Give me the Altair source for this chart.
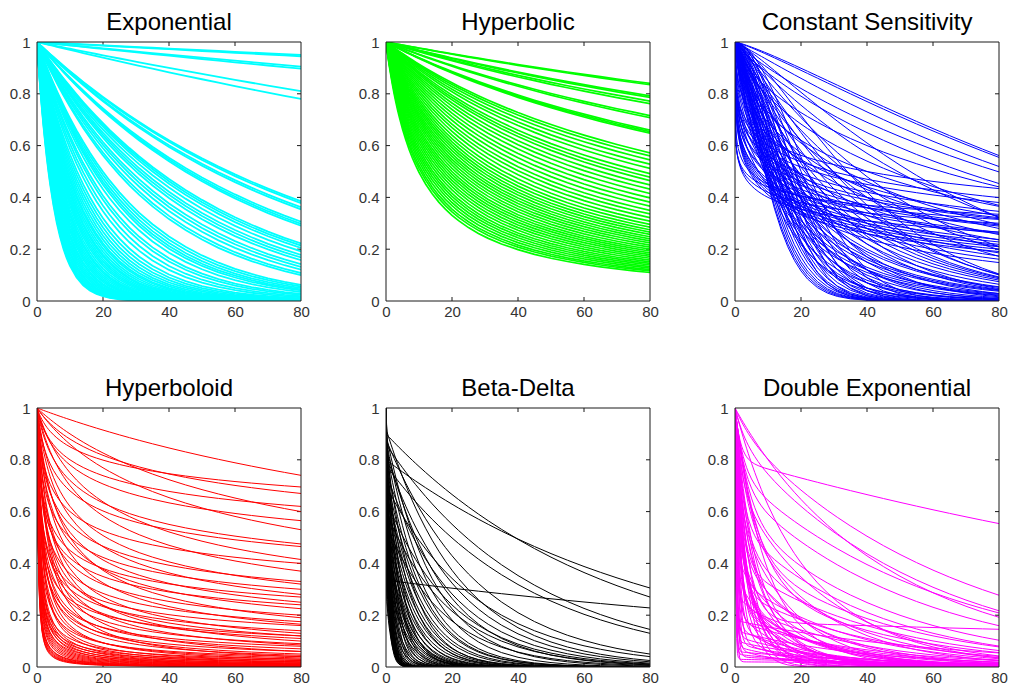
import math
import numpy as np
import pandas as pd
import altair as alt

alt.data_transformers.disable_max_rows()

# ---------------- data ----------------
T_GRID = [0, 0.25, 0.5, 0.75, 1, 1.5, 2, 2.5, 3, 3.5, 4, 5, 6, 7, 8, 9, 10, 12, 14,
          16, 18, 20, 22, 25, 28, 31, 35, 40, 45, 50, 55, 60, 65, 70, 75, 80]
X_TICKS = [0, 20, 40, 60, 80]
Y_TICKS = [0, 0.2, 0.4, 0.6, 0.8, 1]

TITLES = ["Exponential", "Hyperbolic", "Constant Sensitivity",
          "Hyperboloid", "Beta-Delta", "Double Exponential"]
COLORS = ["#00ffff", "#00ff00", "#0000ff", "#ff0000", "#000000", "#ff00ff"]
WIDTHS = [1.8, 1.7, 1.0, 1.0, 1.0, 1.0]

# Exponential: value reached at t=80 (slow curves) and decay rates (fast bundle)
EXP_END80 = [0.950, 0.945, 0.905, 0.897, 0.810, 0.780, 0.385, 0.378, 0.362, 0.354,
             0.306, 0.298, 0.291, 0.222, 0.214, 0.205, 0.192, 0.178, 0.168, 0.158,
             0.142, 0.132, 0.121, 0.108, 0.100, 0.062, 0.056, 0.050, 0.045]
EXP_RATE = [0.040, 0.042, 0.045, 0.047, 0.050, 0.053, 0.057, 0.060, 0.063, 0.066,
            0.069, 0.072, 0.075, 0.077, 0.080, 0.083, 0.086, 0.088, 0.091, 0.094,
            0.097, 0.100, 0.104, 0.108, 0.111, 0.115, 0.119, 0.123, 0.127, 0.131,
            0.136, 0.140, 0.145, 0.150, 0.155, 0.160, 0.166, 0.171, 0.177, 0.183,
            0.189, 0.195, 0.200]

# Hyperbolic: value reached at t=80
HYP_END80 = [0.840, 0.835, 0.792, 0.786, 0.772, 0.762, 0.716, 0.708, 0.660, 0.654,
             0.648, 0.572, 0.560, 0.545, 0.528, 0.512, 0.492, 0.478, 0.465, 0.448,
             0.432, 0.415, 0.398, 0.382, 0.366, 0.350, 0.336, 0.322, 0.308, 0.296,
             0.285, 0.275, 0.266, 0.257, 0.248, 0.240, 0.232, 0.224, 0.216, 0.208,
             0.200, 0.193, 0.186, 0.179, 0.172, 0.165, 0.158, 0.151, 0.145, 0.139,
             0.133, 0.127, 0.121, 0.116, 0.110]

# Constant sensitivity: (value at t=10, value at t=40)
CS_D10_D40 = [
    (0.955, 0.78), (0.95, 0.77), (0.93, 0.73), (0.90, 0.69),
    (0.88, 0.65), (0.91, 0.61), (0.82, 0.60), (0.87, 0.57),
    (0.79, 0.54), (0.72, 0.50), (0.85, 0.48), (0.73, 0.46),
    (0.81, 0.44), (0.69, 0.43), (0.78, 0.40), (0.88, 0.42), (0.83, 0.37),
    (0.62, 0.50), (0.60, 0.47), (0.58, 0.45), (0.56, 0.42), (0.55, 0.40), (0.53, 0.39),
    (0.52, 0.37), (0.50, 0.36), (0.49, 0.34), (0.47, 0.33), (0.46, 0.31), (0.45, 0.30),
    (0.44, 0.29), (0.43, 0.28), (0.42, 0.27), (0.41, 0.26), (0.64, 0.44), (0.66, 0.40),
    (0.60, 0.36), (0.57, 0.33), (0.54, 0.30), (0.51, 0.28), (0.48, 0.26), (0.45, 0.24),
    (0.45, 0.36), (0.42, 0.34), (0.40, 0.31), (0.44, 0.37),
    (0.80, 0.35), (0.77, 0.32), (0.74, 0.30), (0.71, 0.28), (0.68, 0.26), (0.65, 0.24),
    (0.63, 0.22), (0.61, 0.20), (0.59, 0.19), (0.57, 0.17), (0.55, 0.16), (0.53, 0.15),
    (0.51, 0.13), (0.49, 0.12), (0.47, 0.11), (0.70, 0.22), (0.75, 0.25), (0.67, 0.18),
    (0.64, 0.15), (0.60, 0.12), (0.56, 0.10), (0.52, 0.08), (0.48, 0.07), (0.72, 0.17),
    (0.66, 0.12), (0.62, 0.09), (0.58, 0.07), (0.54, 0.05), (0.50, 0.04), (0.46, 0.05),
    (0.85, 0.12), (0.82, 0.09), (0.78, 0.07), (0.75, 0.05), (0.72, 0.04), (0.69, 0.03),
    (0.66, 0.025), (0.63, 0.02), (0.60, 0.015), (0.57, 0.012), (0.55, 0.01), (0.52, 0.008),
    (0.50, 0.006), (0.48, 0.005), (0.46, 0.004), (0.45, 0.003), (0.80, 0.04), (0.76, 0.02),
    (0.70, 0.01), (0.65, 0.006),
]

# Hyperboloid: (value at t=10, value at t=80)
HBD_D10_D80 = [
    (0.955, 0.74), (0.85, 0.695), (0.88, 0.67), (0.80, 0.62), (0.90, 0.60), (0.78, 0.565),
    (0.86, 0.53), (0.72, 0.475), (0.68, 0.465), (0.75, 0.415), (0.60, 0.40), (0.70, 0.37),
    (0.55, 0.33), (0.62, 0.32), (0.50, 0.30), (0.58, 0.28), (0.45, 0.27), (0.52, 0.25),
    (0.42, 0.24), (0.48, 0.225), (0.40, 0.20), (0.50, 0.19), (0.36, 0.175), (0.44, 0.165),
    (0.30, 0.14), (0.38, 0.13), (0.33, 0.12), (0.28, 0.11), (0.35, 0.10), (0.25, 0.09),
    (0.30, 0.085), (0.22, 0.07), (0.27, 0.06), (0.20, 0.05), (0.18, 0.045), (0.24, 0.04),
    (0.15, 0.035), (0.16, 0.03), (0.13, 0.025), (0.12, 0.02), (0.10, 0.018), (0.09, 0.015),
    (0.08, 0.012), (0.07, 0.01), (0.06, 0.009), (0.055, 0.008), (0.05, 0.007), (0.045, 0.006),
    (0.04, 0.005), (0.035, 0.004), (0.03, 0.0035), (0.028, 0.003), (0.025, 0.0025),
    (0.022, 0.002), (0.02, 0.0018), (0.018, 0.0015), (0.016, 0.0012), (0.11, 0.03),
    (0.14, 0.04), (0.19, 0.06), (0.21, 0.08), (0.26, 0.12), (0.32, 0.16), (0.065, 0.012),
    (0.075, 0.015), (0.085, 0.02), (0.095, 0.025),
]

# Beta-delta: slow curves (beta, value at t=80); fast curves (beta, value at t=10)
BD_SLOW_BETA_D80 = [
    (0.80, 0.305), (0.90, 0.27), (0.335, 0.228), (0.86, 0.145), (0.78, 0.13), (0.88, 0.05),
    (0.70, 0.04), (0.92, 0.025), (0.82, 0.02), (0.75, 0.015), (0.65, 0.012), (0.60, 0.01),
    (0.85, 0.008), (0.55, 0.006),
]
BD_FAST_BETA_D10 = [
    (0.90, 0.45), (0.88, 0.40), (0.85, 0.35), (0.80, 0.32), (0.75, 0.30), (0.72, 0.27),
    (0.70, 0.25), (0.68, 0.22), (0.65, 0.20), (0.62, 0.18), (0.60, 0.16), (0.58, 0.14),
    (0.55, 0.12), (0.52, 0.10), (0.50, 0.09), (0.48, 0.08), (0.45, 0.07), (0.42, 0.06),
    (0.40, 0.05), (0.85, 0.25), (0.78, 0.20), (0.72, 0.15), (0.66, 0.12), (0.60, 0.10),
    (0.55, 0.08), (0.90, 0.05), (0.88, 0.03), (0.85, 0.02), (0.82, 0.012), (0.80, 0.008),
    (0.78, 0.005), (0.75, 0.003), (0.72, 0.002), (0.70, 0.001), (0.68, 0.0006),
    (0.65, 0.0004), (0.62, 0.0003), (0.60, 0.0002), (0.58, 0.0001), (0.55, 0.0001),
    (0.52, 0.00005), (0.50, 0.00003), (0.95, 0.001), (0.92, 0.0005), (0.90, 0.0002),
    (0.88, 0.0001), (0.86, 0.00005), (0.84, 0.00002), (0.35, 0.001), (0.32, 0.0005),
    (0.30, 0.0003), (0.45, 0.002), (0.40, 0.001), (0.38, 0.01), (0.48, 0.02), (0.95, 0.1),
    (0.93, 0.06), (0.64, 0.04), (0.57, 0.03), (0.46, 0.015),
]

# Double exponential: (slow weight, fast rate, slow rate)
DE_P_A_B = [
    (0.80, 0.60, 0.0046), (0.92, 0.20, 0.0150), (0.88, 0.30, 0.0175), (0.95, 0.08, 0.0200),
    (0.75, 0.40, 0.0160), (0.70, 0.35, 0.0185), (0.175, 0.30, 0.0023), (0.60, 0.25, 0.0220),
    (0.55, 0.45, 0.0240), (0.45, 0.20, 0.0220), (0.40, 0.50, 0.0230), (0.35, 0.15, 0.0230),
    (0.30, 0.60, 0.0250), (0.85, 0.10, 0.0400), (0.70, 0.50, 0.0350), (0.60, 0.30, 0.0400),
    (0.50, 0.40, 0.0330), (0.45, 0.60, 0.0450), (0.40, 0.35, 0.0400), (0.35, 0.80, 0.0300),
    (0.30, 0.50, 0.0500), (0.25, 1.00, 0.0280), (0.22, 0.70, 0.0350), (0.20, 0.40, 0.0300),
    (0.18, 1.20, 0.0250), (0.15, 1.50, 0.0400), (0.12, 2.00, 0.0350), (0.10, 1.00, 0.0500),
    (0.10, 3.00, 0.0300), (0.08, 2.50, 0.0450), (0.07, 1.80, 0.0600), (0.06, 3.50, 0.0200),
    (0.05, 4.00, 0.0300), (0.04, 2.00, 0.0200), (0.03, 5.00, 0.0100), (0.02, 3.00, 0.0050),
    (0.25, 0.80, 0.0600), (0.20, 0.60, 0.0800), (0.30, 0.90, 0.0700), (0.35, 0.50, 0.0900),
    (0.40, 0.70, 0.1000), (0.50, 0.90, 0.1200), (0.60, 1.20, 0.1500), (0.70, 0.80, 0.1800),
    (0.80, 1.50, 0.2000), (0.90, 0.50, 0.2500), (0.95, 0.30, 0.3000), (0.50, 0.30, 0.1500),
    (0.65, 0.50, 0.1000), (0.45, 0.25, 0.0800), (0.55, 0.15, 0.0700), (0.30, 0.20, 0.0500),
    (0.28, 2.50, 0.0450), (0.22, 1.50, 0.0650), (0.16, 0.90, 0.0550), (0.12, 0.60, 0.0700),
    (0.42, 1.80, 0.0550), (0.36, 2.20, 0.0750), (0.52, 2.00, 0.0900), (0.62, 0.70, 0.0600),
    (0.18, 4.00, 0.0150), (0.14, 2.80, 0.0250), (0.09, 1.40, 0.0350), (0.26, 0.45, 0.0420),
]

# ---------------- curves from the model of each panel ----------------
t = np.array(T_GRID, dtype=float)


def frame(curves):
    rows = []
    for i, ys in enumerate(curves):
        for tt, yy in zip(T_GRID, ys):
            rows.append((i, tt, float(yy)))
    return pd.DataFrame(rows, columns=["c", "t", "d"])


def exponential():
    cs = [np.exp(math.log(e) / 80.0 * t) for e in EXP_END80]
    cs += [np.exp(-k * t) for k in EXP_RATE]
    return frame(cs)


def hyperbolic():
    return frame([1.0 / (1.0 + (1.0 / e - 1.0) / 80.0 * t) for e in HYP_END80])


def const_sens():
    cs = []
    for d10, d40 in CS_D10_D40:
        b = math.log(math.log(d40) / math.log(d10)) / math.log(4.0)
        a = (-math.log(d10)) ** (1.0 / b) / 10.0
        cs.append(np.exp(-(a * t) ** b))
    return frame(cs)


def hyperboloid():
    cs = []
    for d10, d80 in HBD_D10_D80:
        r = math.log(d80) / math.log(d10)
        lo, hi = -14.0, 10.0
        for _ in range(100):
            mid = 0.5 * (lo + hi)
            k = math.exp(mid)
            f = math.log1p(80 * k) / math.log1p(10 * k) - r
            if f > 0:
                lo = mid
            else:
                hi = mid
        k = math.exp(0.5 * (lo + hi))
        s = -math.log(d10) / math.log1p(10 * k)
        cs.append((1.0 + k * t) ** (-s))
    return frame(cs)


def beta_delta():
    cs = []
    for beta, d80 in BD_SLOW_BETA_D80:
        delta = (d80 / beta) ** (1.0 / 80.0)
        cs.append(np.where(t == 0, 1.0, beta * delta ** t))
    for beta, d10 in BD_FAST_BETA_D10:
        delta = (d10 / beta) ** (1.0 / 10.0)
        cs.append(np.where(t == 0, 1.0, beta * delta ** t))
    return frame(cs)


def double_exp():
    return frame([(1 - p) * np.exp(-a * t) + p * np.exp(-b * t) for p, a, b in DE_P_A_B])


DATA = [exponential(), hyperbolic(), const_sens(), hyperboloid(), beta_delta(), double_exp()]

# ---------------- chart ----------------
W, H = 264, 259
BOX = "#1a1a1a"
FONT = "Liberation Sans"
TL = 4

xs = alt.Scale(domain=[0, 80], nice=False, zero=False)
ys = alt.Scale(domain=[0, 1], nice=False, zero=False)
xa = alt.Axis(values=X_TICKS, title=None, format="d")
ya = alt.Axis(values=Y_TICKS, title=None, format="~g")
tick_x = pd.DataFrame({"v": X_TICKS[1:-1]})
tick_y = pd.DataFrame({"v": Y_TICKS[1:-1]})
one = pd.DataFrame({"z": [0]})


def panel(i):
    lines = alt.Chart(DATA[i]).mark_line(
        clip=True, strokeWidth=WIDTHS[i], color=COLORS[i]
    ).encode(
        x=alt.X("t:Q", scale=xs, axis=xa),
        y=alt.Y("d:Q", scale=ys, axis=ya),
        detail="c:N",
    )
    tb = alt.Chart(tick_x).mark_rule(color=BOX, strokeWidth=1).encode(
        x=alt.X("v:Q", scale=xs, axis=xa), y=alt.value(H), y2=alt.value(H - TL))
    tt = alt.Chart(tick_x).mark_rule(color=BOX, strokeWidth=1).encode(
        x=alt.X("v:Q", scale=xs, axis=xa), y=alt.value(0), y2=alt.value(TL))
    tlft = alt.Chart(tick_y).mark_rule(color=BOX, strokeWidth=1).encode(
        y=alt.Y("v:Q", scale=ys, axis=ya), x=alt.value(0), x2=alt.value(TL))
    trt = alt.Chart(tick_y).mark_rule(color=BOX, strokeWidth=1).encode(
        y=alt.Y("v:Q", scale=ys, axis=ya), x=alt.value(W - TL), x2=alt.value(W))
    box = alt.Chart(one).mark_rect(fillOpacity=0, stroke=BOX, strokeWidth=1).encode(
        x=alt.value(0), x2=alt.value(W), y=alt.value(0), y2=alt.value(H))
    return alt.layer(tb, tt, tlft, trt, lines, box).properties(
        width=W, height=H,
        title=alt.TitleParams(TITLES[i], fontSize=24, font=FONT, fontWeight="normal",
                              color="black", frame="group", anchor="middle",
                              offset=0),
    )


row1 = alt.hconcat(panel(0), panel(1), panel(2), spacing=48)
row2 = alt.hconcat(panel(3), panel(4), panel(5), spacing=48)
chart = alt.vconcat(row1, row2, spacing=58).properties(
    padding={"left": 1, "top": 3, "right": 0, "bottom": 0}
).configure_view(strokeWidth=0).configure_axis(
    grid=False, domain=False, ticks=False, labelFont=FONT, labelFontSize=15,
    labelColor="#333333", labelFlush=False, labelOverlap=False,
).configure_axisX(labelPadding=3).configure_axisY(labelPadding=7)

chart.save("out.html", embed_options={"renderer": "svg", "actions": False})
